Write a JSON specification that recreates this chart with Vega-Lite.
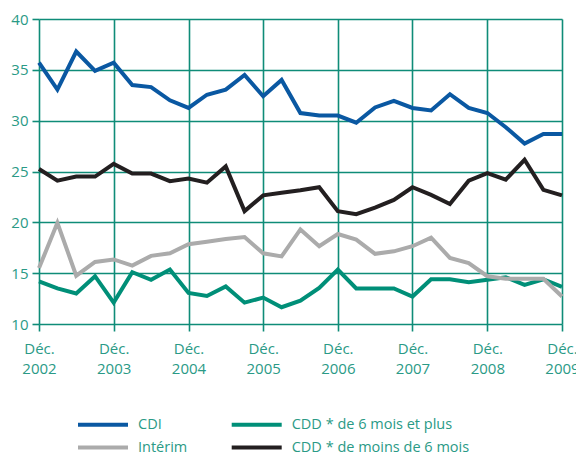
{
  "$schema": "https://vega.github.io/schema/vega-lite/v6.json",
  "autosize": "none",
  "width": 523,
  "height": 305,
  "padding": {"left": 39, "top": 19, "right": 14, "bottom": 128},
  "background": "white",
  "datasets": {
    "d": [
      {"date":"2002-12-01","serie":"CDI","taux":35.7},{"date":"2003-03-01","serie":"CDI","taux":33.05},{"date":"2003-06-01","serie":"CDI","taux":36.8},{"date":"2003-09-01","serie":"CDI","taux":34.9},
      {"date":"2003-12-01","serie":"CDI","taux":35.7},{"date":"2004-03-01","serie":"CDI","taux":33.5},{"date":"2004-06-01","serie":"CDI","taux":33.3},{"date":"2004-09-01","serie":"CDI","taux":32.0},
      {"date":"2004-12-01","serie":"CDI","taux":31.25},{"date":"2005-03-01","serie":"CDI","taux":32.55},{"date":"2005-06-01","serie":"CDI","taux":33.05},{"date":"2005-09-01","serie":"CDI","taux":34.5},
      {"date":"2005-12-01","serie":"CDI","taux":32.4},{"date":"2006-03-01","serie":"CDI","taux":34.0},{"date":"2006-06-01","serie":"CDI","taux":30.75},{"date":"2006-09-01","serie":"CDI","taux":30.5},
      {"date":"2006-12-01","serie":"CDI","taux":30.5},{"date":"2007-03-01","serie":"CDI","taux":29.8},{"date":"2007-06-01","serie":"CDI","taux":31.3},{"date":"2007-09-01","serie":"CDI","taux":31.95},
      {"date":"2007-12-01","serie":"CDI","taux":31.25},{"date":"2008-03-01","serie":"CDI","taux":31.0},{"date":"2008-06-01","serie":"CDI","taux":32.6},{"date":"2008-09-01","serie":"CDI","taux":31.25},
      {"date":"2008-12-01","serie":"CDI","taux":30.75},{"date":"2009-03-01","serie":"CDI","taux":29.35},{"date":"2009-06-01","serie":"CDI","taux":27.75},{"date":"2009-09-01","serie":"CDI","taux":28.7},
      {"date":"2009-12-01","serie":"CDI","taux":28.7},

      {"date":"2002-12-01","serie":"CDD * de 6 mois et plus","taux":14.2},{"date":"2003-03-01","serie":"CDD * de 6 mois et plus","taux":13.5},{"date":"2003-06-01","serie":"CDD * de 6 mois et plus","taux":13.0},{"date":"2003-09-01","serie":"CDD * de 6 mois et plus","taux":14.7},
      {"date":"2003-12-01","serie":"CDD * de 6 mois et plus","taux":12.1},{"date":"2004-03-01","serie":"CDD * de 6 mois et plus","taux":15.1},{"date":"2004-06-01","serie":"CDD * de 6 mois et plus","taux":14.35},{"date":"2004-09-01","serie":"CDD * de 6 mois et plus","taux":15.35},
      {"date":"2004-12-01","serie":"CDD * de 6 mois et plus","taux":13.05},{"date":"2005-03-01","serie":"CDD * de 6 mois et plus","taux":12.75},{"date":"2005-06-01","serie":"CDD * de 6 mois et plus","taux":13.7},{"date":"2005-09-01","serie":"CDD * de 6 mois et plus","taux":12.1},
      {"date":"2005-12-01","serie":"CDD * de 6 mois et plus","taux":12.6},{"date":"2006-03-01","serie":"CDD * de 6 mois et plus","taux":11.65},{"date":"2006-06-01","serie":"CDD * de 6 mois et plus","taux":12.3},{"date":"2006-09-01","serie":"CDD * de 6 mois et plus","taux":13.55},
      {"date":"2006-12-01","serie":"CDD * de 6 mois et plus","taux":15.35},{"date":"2007-03-01","serie":"CDD * de 6 mois et plus","taux":13.5},{"date":"2007-06-01","serie":"CDD * de 6 mois et plus","taux":13.5},{"date":"2007-09-01","serie":"CDD * de 6 mois et plus","taux":13.5},
      {"date":"2007-12-01","serie":"CDD * de 6 mois et plus","taux":12.7},{"date":"2008-03-01","serie":"CDD * de 6 mois et plus","taux":14.4},{"date":"2008-06-01","serie":"CDD * de 6 mois et plus","taux":14.4},{"date":"2008-09-01","serie":"CDD * de 6 mois et plus","taux":14.1},
      {"date":"2008-12-01","serie":"CDD * de 6 mois et plus","taux":14.35},{"date":"2009-03-01","serie":"CDD * de 6 mois et plus","taux":14.6},{"date":"2009-06-01","serie":"CDD * de 6 mois et plus","taux":13.85},{"date":"2009-09-01","serie":"CDD * de 6 mois et plus","taux":14.4},
      {"date":"2009-12-01","serie":"CDD * de 6 mois et plus","taux":13.65},

      {"date":"2002-12-01","serie":"Intérim","taux":15.5},{"date":"2003-03-01","serie":"Intérim","taux":19.95},{"date":"2003-06-01","serie":"Intérim","taux":14.75},{"date":"2003-09-01","serie":"Intérim","taux":16.1},
      {"date":"2003-12-01","serie":"Intérim","taux":16.35},{"date":"2004-03-01","serie":"Intérim","taux":15.75},{"date":"2004-06-01","serie":"Intérim","taux":16.7},{"date":"2004-09-01","serie":"Intérim","taux":16.95},
      {"date":"2004-12-01","serie":"Intérim","taux":17.85},{"date":"2005-03-01","serie":"Intérim","taux":18.1},{"date":"2005-06-01","serie":"Intérim","taux":18.35},{"date":"2005-09-01","serie":"Intérim","taux":18.55},
      {"date":"2005-12-01","serie":"Intérim","taux":16.95},{"date":"2006-03-01","serie":"Intérim","taux":16.65},{"date":"2006-06-01","serie":"Intérim","taux":19.3},{"date":"2006-09-01","serie":"Intérim","taux":17.65},
      {"date":"2006-12-01","serie":"Intérim","taux":18.85},{"date":"2007-03-01","serie":"Intérim","taux":18.3},{"date":"2007-06-01","serie":"Intérim","taux":16.9},{"date":"2007-09-01","serie":"Intérim","taux":17.15},
      {"date":"2007-12-01","serie":"Intérim","taux":17.65},{"date":"2008-03-01","serie":"Intérim","taux":18.5},{"date":"2008-06-01","serie":"Intérim","taux":16.5},{"date":"2008-09-01","serie":"Intérim","taux":16.0},
      {"date":"2008-12-01","serie":"Intérim","taux":14.7},{"date":"2009-03-01","serie":"Intérim","taux":14.45},{"date":"2009-06-01","serie":"Intérim","taux":14.45},{"date":"2009-09-01","serie":"Intérim","taux":14.45},
      {"date":"2009-12-01","serie":"Intérim","taux":12.7},

      {"date":"2002-12-01","serie":"CDD * de moins de 6 mois","taux":25.25},{"date":"2003-03-01","serie":"CDD * de moins de 6 mois","taux":24.1},{"date":"2003-06-01","serie":"CDD * de moins de 6 mois","taux":24.5},{"date":"2003-09-01","serie":"CDD * de moins de 6 mois","taux":24.5},
      {"date":"2003-12-01","serie":"CDD * de moins de 6 mois","taux":25.75},{"date":"2004-03-01","serie":"CDD * de moins de 6 mois","taux":24.8},{"date":"2004-06-01","serie":"CDD * de moins de 6 mois","taux":24.8},{"date":"2004-09-01","serie":"CDD * de moins de 6 mois","taux":24.05},
      {"date":"2004-12-01","serie":"CDD * de moins de 6 mois","taux":24.3},{"date":"2005-03-01","serie":"CDD * de moins de 6 mois","taux":23.9},{"date":"2005-06-01","serie":"CDD * de moins de 6 mois","taux":25.5},{"date":"2005-09-01","serie":"CDD * de moins de 6 mois","taux":21.1},
      {"date":"2005-12-01","serie":"CDD * de moins de 6 mois","taux":22.65},{"date":"2006-03-01","serie":"CDD * de moins de 6 mois","taux":22.9},{"date":"2006-06-01","serie":"CDD * de moins de 6 mois","taux":23.15},{"date":"2006-09-01","serie":"CDD * de moins de 6 mois","taux":23.45},
      {"date":"2006-12-01","serie":"CDD * de moins de 6 mois","taux":21.1},{"date":"2007-03-01","serie":"CDD * de moins de 6 mois","taux":20.8},{"date":"2007-06-01","serie":"CDD * de moins de 6 mois","taux":21.45},{"date":"2007-09-01","serie":"CDD * de moins de 6 mois","taux":22.2},
      {"date":"2007-12-01","serie":"CDD * de moins de 6 mois","taux":23.45},{"date":"2008-03-01","serie":"CDD * de moins de 6 mois","taux":22.7},{"date":"2008-06-01","serie":"CDD * de moins de 6 mois","taux":21.8},{"date":"2008-09-01","serie":"CDD * de moins de 6 mois","taux":24.1},
      {"date":"2008-12-01","serie":"CDD * de moins de 6 mois","taux":24.85},{"date":"2009-03-01","serie":"CDD * de moins de 6 mois","taux":24.2},{"date":"2009-06-01","serie":"CDD * de moins de 6 mois","taux":26.15},{"date":"2009-09-01","serie":"CDD * de moins de 6 mois","taux":23.2},
      {"date":"2009-12-01","serie":"CDD * de moins de 6 mois","taux":22.65}
    ]
  },
  "data": {"name": "d"},
  "mark": {"type": "line", "strokeWidth": 4, "strokeJoin": "miter", "clip": false},
  "encoding": {
    "x": {
      "field": "date",
      "type": "temporal",
      "title": null,
      "scale": {
        "type": "utc",
        "domain": [
          {"year": 2002, "month": 12, "date": 1, "utc": true},
          {"year": 2009, "month": 12, "date": 1, "utc": true}
        ]
      },
      "axis": {
        "values": [
          {"year": 2002, "month": 12, "date": 1, "utc": true},
          {"year": 2003, "month": 12, "date": 1, "utc": true},
          {"year": 2004, "month": 12, "date": 1, "utc": true},
          {"year": 2005, "month": 12, "date": 1, "utc": true},
          {"year": 2006, "month": 12, "date": 1, "utc": true},
          {"year": 2007, "month": 12, "date": 1, "utc": true},
          {"year": 2008, "month": 12, "date": 1, "utc": true},
          {"year": 2009, "month": 12, "date": 1, "utc": true}
        ],
        "labelExpr": "['Déc.', utcFormat(datum.value, '%Y')]",
        "labelLineHeight": 20,
        "labelPadding": 10,
        "labelOverlap": false,
        "labelFlush": false,
        "labelBound": false
      }
    },
    "y": {
      "field": "taux",
      "type": "quantitative",
      "title": null,
      "scale": {"domain": [10, 40], "nice": false, "zero": false},
      "axis": {"values": [10, 15, 20, 25, 30, 35, 40], "labelPadding": 4}
    },
    "color": {
      "field": "serie",
      "type": "nominal",
      "scale": {
        "domain": ["CDI", "CDD * de 6 mois et plus", "Intérim", "CDD * de moins de 6 mois"],
        "range": ["#0a58a2", "#008f78", "#ababab", "#231f20"]
      },
      "legend": {
        "title": null,
        "orient": "none",
        "direction": "horizontal",
        "legendX": 49.5,
        "legendY": 391,
        "columns": 2,
        "gridAlign": "each",
        "columnPadding": 35.7,
        "rowPadding": 0,
        "padding": 0,
        "symbolType": "M-2,0H2",
        "symbolSize": 625,
        "symbolStrokeWidth": 4,
        "symbolFillColor": "transparent",
        "labelOffset": 20.5,
        "labelLimit": 400,
        "labelFontSize": 14.5,
        "labelFont": "Open Sans",
        "labelColor": "#2a9a86"
      }
    }
  },
  "config": {
    "view": {"stroke": null},
    "axis": {
      "domain": false,
      "grid": true,
      "gridColor": "#0f8c78",
      "gridWidth": 1.6,
      "gridOpacity": 1,
      "ticks": true,
      "tickColor": "#0f8c78",
      "tickWidth": 1.6,
      "tickSize": 7,
      "labelFont": "Open Sans",
      "labelFontSize": 15,
      "labelColor": "#2a9a86"
    }
  }
}
